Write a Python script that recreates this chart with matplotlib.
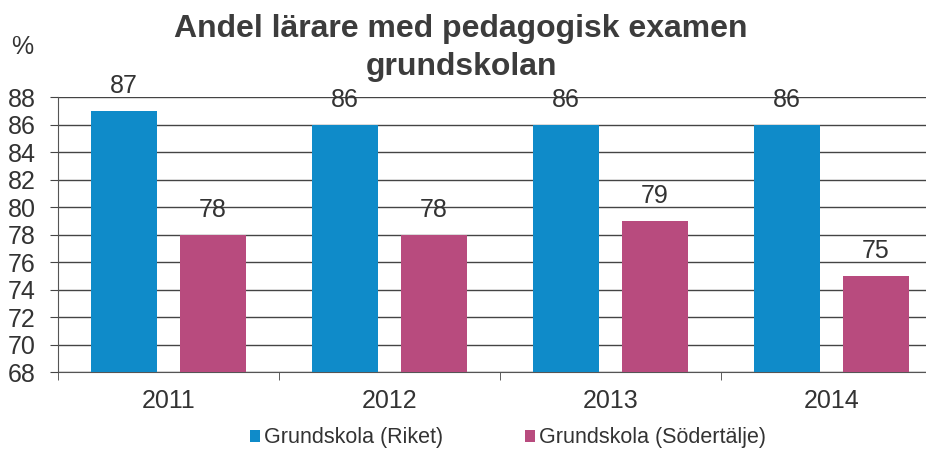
import numpy as np
import matplotlib.pyplot as plt

plt.rcParams['font.family'] = ['Liberation Sans', 'DejaVu Sans']

years = ['2011', '2012', '2013', '2014']
riket = [87, 86, 86, 86]
sodertalje = [78, 78, 79, 75]
series_names = ['Grundskola (Riket)', 'Grundskola (Södertälje)']
colors = ['#0f8bc9', '#b84b7e']
text_color = '#333333'

fig = plt.figure(figsize=(9.26, 4.5), dpi=100)
# plot area runs a little past the right edge, as in the reference
ax = fig.add_axes([58 / 926, 1 - 372 / 450, 884 / 926, 275 / 450])

x = np.arange(len(years))
w = 0.3
b1 = ax.bar(x - 0.2, np.array(riket) - 68, w, bottom=68, color=colors[0],
            label=series_names[0], zorder=3)
b2 = ax.bar(x + 0.2, np.array(sodertalje) - 68, w, bottom=68, color=colors[1],
            label=series_names[1], zorder=3)

# value labels above bars
for bars, vals in [(b1, riket), (b2, sodertalje)]:
    for r, v in zip(bars, vals):
        ax.annotate(str(v), (r.get_x() + r.get_width() / 2, v),
                    xytext=(0, 9), textcoords='offset points',
                    ha='center', va='bottom', fontsize=18, color=text_color,
                    zorder=5)

ax.set_xlim(-0.5, len(years) - 0.5)
ax.set_ylim(68, 88)
ax.set_yticks(range(68, 89, 2))
ax.yaxis.grid(True, color='#444444', linewidth=1)
ax.set_axisbelow(True)

ax.set_xticks(x)
ax.set_xticklabels(years)
ax.set_xticks(np.arange(-0.5, len(years)), minor=True)
ax.tick_params(axis='x', which='major', length=0, labelsize=18,
               labelcolor=text_color, pad=12)
ax.tick_params(axis='x', which='minor', length=6, direction='out',
               color='#444444')
ax.tick_params(axis='y', length=6, direction='out', color='#444444',
               labelsize=18, labelcolor=text_color, pad=10)

for s in ['top', 'right']:
    ax.spines[s].set_visible(False)
ax.spines['left'].set_color('#555555')
ax.spines['bottom'].set_color('#555555')

fig.text(0.498, 0.968, 'Andel lärare med pedagogisk examen\ngrundskolan',
         ha='center', va='top', fontsize=23, fontweight='bold',
         color='#3c3c3c', linespacing=1.32)
fig.text(22 / 926, 1 - 47 / 450, '%', ha='center', va='center',
         fontsize=18, color=text_color)

fig.legend(handles=[b1, b2], labels=series_names, loc='center',
           bbox_to_anchor=(0.549, 1 - 438 / 450), ncol=2, frameon=False,
           fontsize=15.5, handlelength=0.45, handleheight=0.45,
           handletextpad=0.2, columnspacing=3.8, labelcolor=text_color)

plt.savefig('out.png', dpi=100)
